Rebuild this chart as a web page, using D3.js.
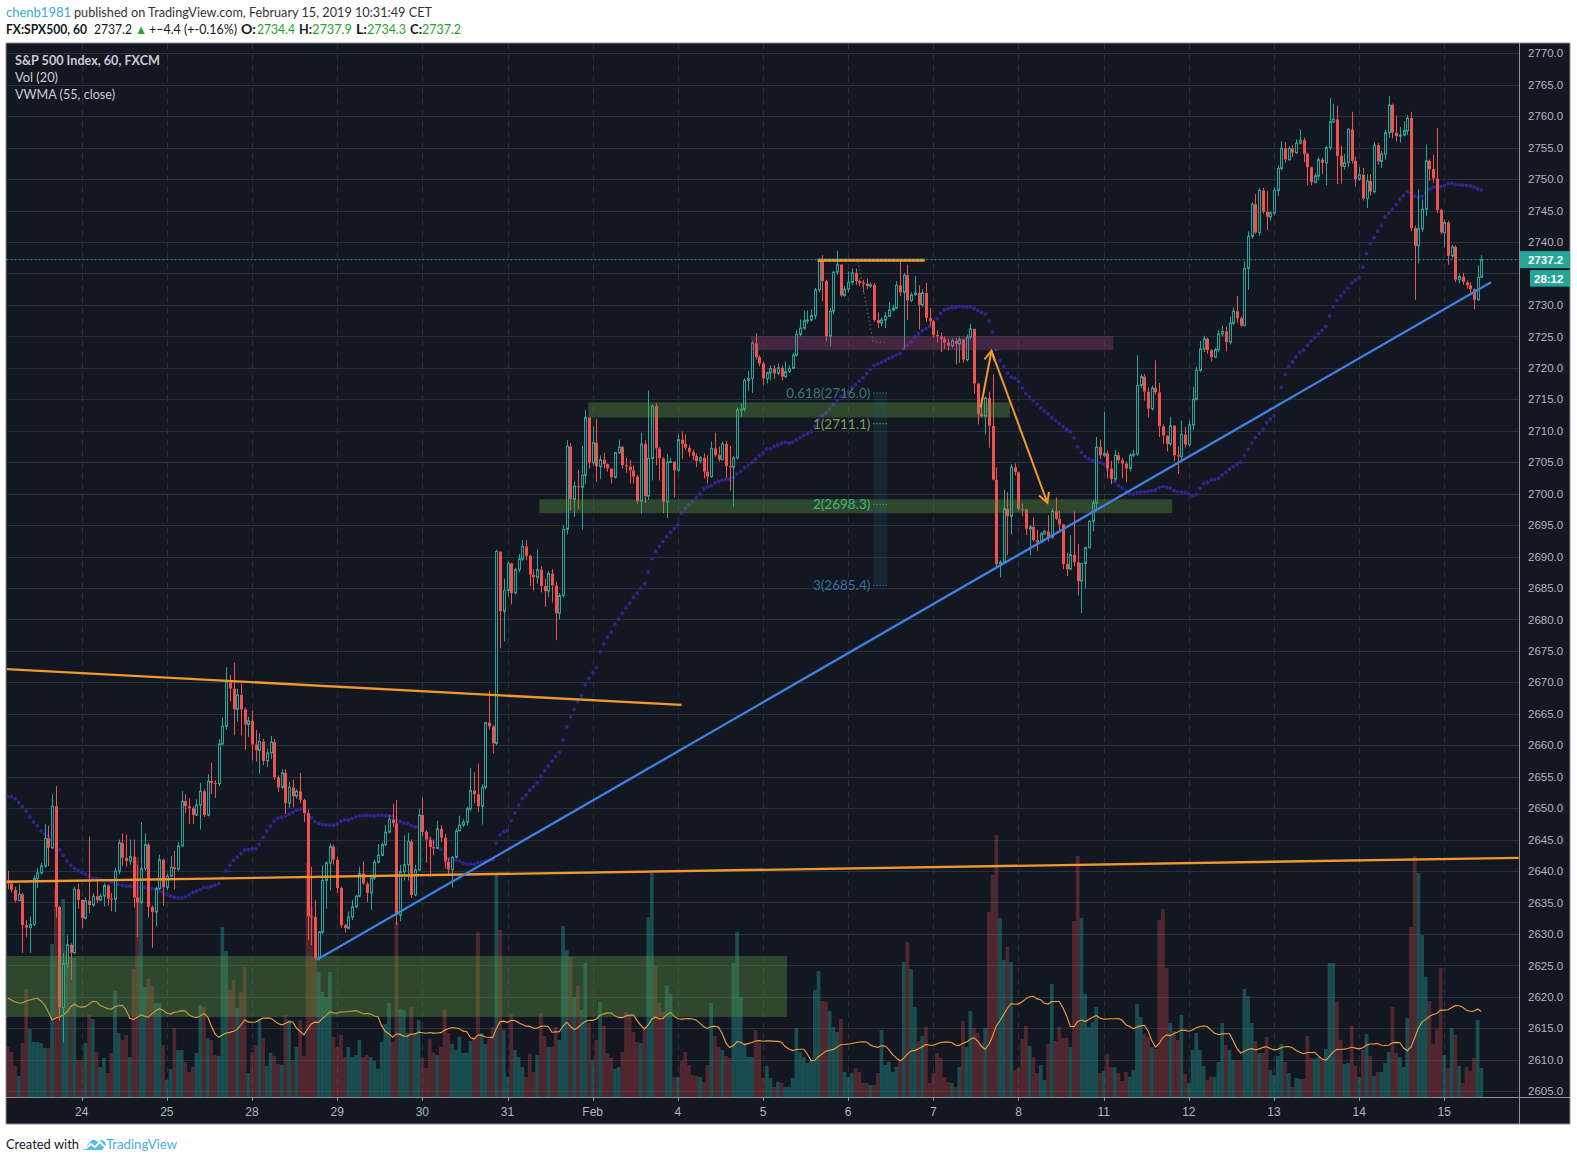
<!DOCTYPE html>
<html><head><meta charset="utf-8">
<script src="https://cdn.jsdelivr.net/npm/d3@7"></script>
<style>
html,body{margin:0;padding:0;background:#ffffff;}
svg{display:block;}
</style></head><body>
<svg id="chart" width="1577" height="1161"></svg>
<script>
// ---------------- DATA ----------------
const dayLabels = ["24","25","28","29","30","31","Feb","4","5","6","7","8","11","12","13","14","15"];
const firstDayBar = 20;          // bar index of the first day label
const barsPerDay = 23;           // hourly bars per trading day
const firstOpen = 2638.5;
const closes = [
2638.0,2637.0,2635.3,2636.3,2631.4,2631.0,2631.5,2638.8,2639.7,2640.8,
2645.2,2643.7,2650.3,2634.3,2618.3,2625.3,2628.3,2627.0,2637.1,2635.4,
2632.5,2635.3,2634.6,2636.0,2635.4,2636.0,2637.7,2635.6,2635.5,2640.0,
2644.5,2642.1,2641.6,2642.3,2635.8,2635.0,2640.4,2644.2,2634.3,2633.5,
2637.2,2641.8,2637.4,2639.2,2640.6,2640.3,2644.0,2651.1,2650.3,2650.0,
2648.9,2650.5,2652.7,2648.9,2654.3,2654.0,2653.9,2660.2,2663.0,2670.0,
2669.0,2665.7,2668.0,2665.7,2663.3,2663.9,2660.1,2659.2,2660.6,2657.5,
2658.8,2660.5,2654.9,2653.3,2655.6,2650.8,2653.3,2651.9,2652.7,2651.3,
2649.2,2632.8,2632.7,2626.1,2630.3,2638.5,2641.3,2643.9,2641.8,2637.3,
2631.4,2630.9,2632.7,2634.3,2636.0,2639.6,2638.0,2636.5,2638.9,2641.4,
2642.5,2644.2,2646.2,2648.2,2647.6,2633.0,2639.9,2641.0,2644.7,2636.2,
2640.2,2648.9,2646.2,2645.0,2643.8,2643.6,2646.7,2645.3,2641.5,2640.2,
2642.2,2646.4,2647.3,2647.8,2649.9,2652.8,2652.2,2650.3,2653.3,2663.6,
2663.0,2660.3,2690.8,2681.3,2684.6,2688.9,2684.2,2687.9,2689.6,2691.6,
2690.1,2687.1,2686.7,2687.9,2685.3,2684.5,2687.3,2685.4,2681.0,2683.8,
2694.3,2707.5,2699.1,2701.2,2701.0,2702.9,2712.1,2704.9,2708.1,2704.3,
2705.4,2704.7,2704.0,2702.6,2706.5,2707.4,2704.5,2704.3,2703.7,2702.7,
2698.8,2707.9,2699.6,2705.6,2713.9,2707.2,2705.6,2698.7,2705.0,2705.1,
2703.7,2708.6,2707.9,2707.3,2706.6,2706.0,2705.2,2705.7,2703.5,2702.7,
2707.2,2706.1,2705.4,2707.9,2704.4,2704.2,2705.7,2713.3,2713.4,2718.0,
2718.3,2723.9,2721.7,2720.7,2718.3,2719.2,2719.9,2719.1,2720.0,2718.6,
2719.4,2719.9,2722.0,2725.3,2726.3,2727.5,2727.6,2728.3,2732.4,2737.0,
2733.8,2725.0,2729.0,2735.2,2736.4,2731.5,2732.5,2733.6,2735.1,2733.8,
2733.5,2733.4,2733.0,2733.2,2727.6,2727.1,2727.6,2728.2,2729.2,2729.5,
2733.1,2732.0,2734.7,2730.7,2731.6,2731.9,2730.0,2731.9,2727.9,2727.4,
2725.2,2725.0,2724.6,2724.0,2723.5,2724.3,2723.8,2724.5,2721.3,2724.9,
2726.2,2717.5,2712.7,2712.3,2715.2,2710.8,2702.2,2688.8,2689.1,2697.6,
2696.4,2704.2,2703.4,2697.6,2697.5,2694.4,2694.7,2692.6,2692.3,2693.6,
2694.0,2693.1,2697.2,2696.0,2695.1,2688.8,2688.0,2690.3,2689.1,2686.1,
2688.9,2691.4,2695.6,2698.5,2707.4,2706.1,2706.4,2704.0,2702.3,2706.1,
2705.3,2704.8,2704.0,2706.1,2706.3,2717.2,2718.6,2716.2,2713.5,2716.8,
2716.1,2710.7,2709.2,2707.9,2710.8,2706.1,2705.9,2709.4,2707.8,2710.9,
2715.0,2719.6,2723.0,2724.6,2722.8,2721.7,2722.9,2725.4,2725.8,2724.1,
2727.1,2729.0,2727.9,2726.7,2735.8,2740.9,2746.0,2741.5,2748.2,2744.8,
2744.0,2744.6,2748.2,2751.7,2754.9,2753.1,2754.9,2754.2,2755.7,2756.2,
2754.0,2751.9,2749.5,2750.5,2753.1,2752.6,2755.0,2759.1,2759.5,2753.7,
2752.0,2752.6,2757.9,2752.9,2750.0,2750.7,2746.9,2749.7,2748.0,2755.4,
2752.8,2754.0,2757.4,2761.8,2757.4,2756.8,2757.0,2757.7,2759.7,2742.2,
2739.4,2742.1,2745.2,2752.9,2751.6,2750.1,2745.1,2741.5,2743.1,2737.8,
2739.2,2734.0,2734.5,2733.6,2733.1,2732.5,2730.8,2734.4,2737.2];
const highs = [
2640.0,2638.5,2637.5,2637.9,2636.5,2632.2,2632.8,2639.3,2640.5,2641.3,
2647.5,2647.2,2652.2,2653.5,2634.5,2627.0,2629.8,2628.5,2637.5,2638.0,
2635.5,2635.8,2645.5,2636.5,2638.5,2636.4,2638.1,2637.9,2636.5,2640.5,
2645.0,2646.0,2645.8,2645.0,2645.0,2641.0,2647.8,2646.0,2644.5,2634.5,
2637.5,2642.6,2642.0,2639.6,2642.4,2643.2,2644.6,2652.7,2652.2,2651.6,
2650.3,2651.4,2654.0,2653.0,2655.4,2657.2,2654.4,2661.0,2664.4,2672.4,
2671.2,2673.1,2669.0,2669.8,2666.0,2664.5,2665.5,2662.4,2661.9,2661.0,
2659.5,2661.5,2661.0,2655.2,2656.2,2656.2,2654.2,2654.5,2653.0,2655.6,
2651.5,2649.8,2640.7,2635.4,2630.5,2640.9,2641.5,2644.4,2644.2,2642.3,
2637.5,2631.6,2633.6,2635.4,2636.2,2640.7,2641.5,2638.3,2639.2,2641.8,
2644.3,2644.5,2647.3,2648.9,2650.7,2651.3,2641.0,2645.7,2646.1,2645.0,
2641.0,2649.9,2651.7,2646.5,2645.4,2645.0,2648.0,2647.3,2645.9,2642.1,
2642.4,2646.8,2648.8,2648.2,2650.2,2656.4,2655.7,2657.1,2653.8,2663.7,
2668.7,2663.2,2691.1,2690.8,2686.5,2689.2,2689.0,2688.2,2690.4,2692.6,
2692.6,2690.3,2688.0,2691.1,2688.5,2686.5,2687.7,2688.0,2686.0,2684.2,
2695.0,2708.5,2708.0,2702.0,2703.8,2707.6,2713.3,2712.1,2710.7,2711.9,
2706.1,2706.5,2704.8,2704.0,2706.6,2708.6,2707.6,2705.7,2705.3,2704.5,
2703.0,2709.7,2708.5,2716.4,2714.2,2714.3,2707.4,2705.8,2706.3,2705.7,
2705.1,2709.4,2709.9,2709.4,2707.7,2707.0,2706.4,2706.0,2706.4,2706.1,
2708.3,2709.7,2707.5,2708.3,2708.4,2707.6,2706.0,2713.7,2714.3,2718.3,
2719.5,2724.3,2725.5,2722.0,2721.0,2719.4,2720.4,2720.4,2720.7,2720.4,
2721.0,2720.4,2722.4,2726.0,2727.7,2729.1,2729.1,2729.3,2732.7,2737.5,
2737.9,2734.0,2729.5,2735.4,2738.6,2736.5,2733.0,2735.3,2735.8,2735.8,
2734.0,2734.0,2734.2,2733.6,2733.5,2728.8,2728.0,2728.9,2730.5,2730.0,
2733.8,2737.2,2735.1,2736.4,2732.0,2734.6,2733.1,2732.5,2733.5,2729.5,
2727.6,2726.0,2725.6,2725.0,2724.6,2724.7,2724.8,2725.0,2724.6,2725.3,
2727.0,2726.2,2717.6,2715.3,2715.4,2716.2,2719.0,2704.2,2689.4,2700.6,
2700.2,2704.7,2704.8,2703.5,2698.5,2697.6,2695.0,2696.2,2694.3,2693.9,
2694.2,2696.6,2697.6,2699.4,2697.3,2695.2,2690.6,2693.4,2697.2,2692.0,
2689.0,2691.6,2695.8,2699.0,2709.0,2708.6,2713.0,2706.9,2705.2,2706.9,
2706.6,2705.7,2705.1,2706.4,2707.0,2722.0,2719.0,2719.0,2716.9,2717.2,
2721.2,2717.6,2711.0,2709.3,2712.2,2710.9,2707.5,2711.6,2710.6,2711.6,
2717.0,2720.2,2724.3,2725.1,2724.8,2723.0,2723.2,2726.0,2726.7,2726.6,
2728.1,2729.6,2731.4,2728.2,2736.9,2741.7,2746.3,2747.6,2748.6,2748.6,
2748.1,2744.9,2748.7,2752.2,2756.0,2755.9,2755.2,2755.4,2756.3,2757.9,
2756.6,2754.2,2752.0,2750.9,2753.5,2753.4,2755.3,2762.9,2762.0,2761.7,
2755.3,2754.0,2758.1,2760.7,2753.6,2751.9,2751.8,2750.8,2750.8,2755.9,
2755.7,2754.5,2757.8,2763.2,2762.0,2760.1,2758.3,2759.2,2760.2,2760.7,
2742.6,2748.4,2746.8,2755.5,2753.1,2753.9,2758.1,2745.3,2743.6,2743.4,
2739.6,2739.5,2735.0,2735.1,2733.9,2733.6,2732.6,2736.3,2737.9];
const lows = [
2637.1,2636.6,2635.0,2635.3,2627.0,2629.5,2627.0,2631.3,2637.3,2639.5,
2640.5,2640.8,2643.5,2632.6,2616.2,2612.7,2624.5,2622.7,2626.8,2634.0,
2630.9,2632.3,2633.3,2634.3,2635.0,2635.2,2634.4,2634.5,2633.6,2633.5,
2639.5,2640.8,2640.7,2641.0,2634.2,2629.5,2634.7,2640.0,2632.6,2627.8,
2631.2,2637.0,2634.5,2637.0,2639.0,2637.1,2640.0,2643.8,2649.2,2647.5,
2647.5,2648.8,2646.6,2648.6,2648.7,2652.2,2651.6,2653.5,2660.0,2662.5,
2667.0,2661.6,2663.7,2661.6,2659.3,2661.3,2657.6,2657.4,2655.5,2656.8,
2656.5,2657.8,2654.5,2652.6,2653.0,2649.1,2650.0,2650.1,2651.5,2650.8,
2647.8,2629.0,2628.2,2625.9,2625.8,2630.0,2634.0,2636.9,2641.0,2636.5,
2631.0,2630.2,2630.7,2632.2,2634.1,2635.8,2637.8,2635.1,2633.8,2638.6,
2641.2,2642.4,2644.0,2646.0,2647.0,2631.4,2632.0,2638.5,2638.5,2635.7,
2636.0,2640.0,2645.5,2641.3,2639.1,2642.5,2643.5,2644.6,2640.4,2639.5,
2637.4,2642.0,2646.3,2647.0,2647.2,2649.5,2650.8,2649.4,2647.4,2653.0,
2662.5,2658.7,2660.0,2675.4,2676.5,2683.7,2682.4,2684.0,2687.5,2689.3,
2689.4,2685.3,2684.6,2685.7,2684.3,2682.0,2683.5,2682.7,2676.7,2680.0,
2683.5,2693.5,2697.3,2696.3,2697.5,2694.3,2701.5,2704.0,2704.5,2701.9,
2702.3,2704.0,2703.5,2701.6,2702.4,2706.3,2704.0,2703.3,2701.6,2701.6,
2698.3,2696.8,2698.5,2699.0,2702.1,2704.5,2702.1,2696.9,2696.1,2704.9,
2699.4,2703.5,2705.5,2706.9,2705.9,2705.3,2704.2,2704.8,2702.4,2701.6,
2702.5,2705.9,2705.1,2705.3,2702.5,2700.4,2697.9,2705.4,2712.2,2713.0,
2716.3,2716.0,2721.3,2720.3,2717.3,2717.5,2718.0,2718.2,2718.8,2718.0,
2718.4,2719.2,2719.8,2721.8,2725.0,2726.0,2727.0,2727.4,2727.7,2732.0,
2730.6,2724.2,2723.4,2728.5,2734.8,2731.3,2731.3,2732.0,2733.2,2733.2,
2733.0,2732.0,2732.5,2732.7,2727.3,2726.3,2726.6,2726.3,2728.1,2729.0,
2729.3,2731.4,2723.1,2727.6,2730.4,2731.5,2726.1,2729.7,2727.3,2726.7,
2724.8,2724.0,2722.5,2723.0,2722.8,2723.2,2720.5,2720.8,2720.8,2721.0,
2724.5,2715.9,2711.0,2712.1,2709.4,2707.3,2702.1,2688.1,2686.7,2688.9,
2690.2,2693.5,2702.9,2697.3,2696.4,2693.4,2690.2,2692.4,2690.9,2692.2,
2693.5,2692.4,2692.8,2695.8,2693.8,2688.0,2686.9,2687.9,2688.4,2683.8,
2681.0,2684.9,2692.8,2694.0,2697.2,2705.5,2705.8,2702.4,2701.5,2702.0,
2704.8,2702.5,2701.8,2703.5,2705.8,2706.0,2716.8,2714.8,2712.1,2713.2,
2715.7,2709.0,2707.9,2706.7,2707.6,2705.1,2703.1,2705.3,2707.3,2707.5,
2710.1,2714.8,2719.3,2722.5,2722.2,2721.0,2721.6,2722.5,2725.0,2722.6,
2723.7,2726.8,2727.2,2726.5,2726.6,2732.4,2740.5,2741.3,2741.0,2744.5,
2741.9,2743.4,2744.2,2747.3,2751.4,2752.6,2752.9,2753.5,2754.0,2755.5,
2752.7,2749.0,2749.0,2749.3,2749.8,2750.8,2749.0,2754.6,2758.9,2749.2,
2749.3,2751.5,2751.9,2752.5,2748.8,2749.7,2746.6,2745.4,2747.4,2747.7,
2752.3,2751.8,2753.1,2756.6,2756.5,2756.0,2755.8,2756.8,2757.0,2741.7,
2730.8,2736.6,2741.6,2744.1,2749.7,2749.4,2744.6,2741.2,2739.2,2736.4,
2737.5,2733.6,2733.4,2733.2,2732.6,2731.7,2729.3,2730.7,2734.3];
const volumes = [
50,45,31,21,54,108,68,55,55,54,
49,49,153,208,150,198,147,140,139,37,
37,54,82,78,45,30,39,24,44,106,
64,57,62,40,128,240,200,110,118,111,
94,94,52,17,28,69,47,47,35,25,
30,44,92,90,59,57,42,41,170,146,
107,117,89,105,130,24,45,52,78,59,
31,44,41,33,32,82,77,37,50,77,
41,234,190,140,125,105,100,125,60,50,
62,40,50,40,42,57,40,42,40,36,
28,55,73,94,55,175,88,87,64,90,
64,77,39,29,58,44,42,50,87,64,
53,47,60,44,44,56,60,165,64,53,
58,70,222,167,67,20,83,47,40,30,
20,43,25,42,84,61,50,50,70,57,
171,147,140,100,111,87,134,74,37,57,
95,71,44,39,28,30,45,85,83,65,
55,54,69,180,224,131,94,85,112,103,
20,20,36,45,32,22,21,20,15,32,
94,61,50,47,41,39,134,165,100,54,
40,40,67,54,19,31,19,10,15,14,
10,10,19,69,45,40,34,37,107,126,
96,95,86,70,65,78,25,20,24,29,
25,14,14,12,12,24,67,32,35,25,
30,37,135,155,128,90,56,61,70,14,
24,44,39,20,15,14,10,30,76,50,
86,69,64,54,69,185,222,262,179,137,
150,135,27,29,58,71,51,40,24,32,
17,53,113,56,70,59,59,50,176,241,
179,103,70,75,90,24,26,43,30,30,
24,16,25,20,27,93,80,63,60,50,
48,177,188,129,74,66,57,82,23,14,
47,64,47,31,17,20,20,35,74,52,
47,37,37,37,108,101,74,56,44,44,
60,27,22,41,53,35,24,10,19,18,
18,61,39,38,40,38,48,134,134,95,
57,33,34,71,31,20,47,63,41,21,
25,25,34,45,90,44,40,30,79,170,
241,224,162,120,96,53,68,129,42,29,
69,62,31,14,30,26,39,77,29];
// VWMA(55) values for the first bars (before a full window exists)
const vwmaEarly = [
2651.8,2651.8,2651.5,2650.9,2650.2,2649.5,2648.6,2647.8,2647.2,2646.4,
2645.9,2645.6,2645.0,2644.2,2643.4,2642.5,2641.6,2640.9,2640.4,2640.1,
2639.8,2639.5,2639.2,2638.9,2638.8,2638.7,2638.5,2638.5,2638.3,2638.0,
2637.9,2637.7,2637.6,2637.6,2637.5,2637.5,2637.5,2637.4,2637.2,2637.2,
2637.1,2636.8,2636.6,2636.3,2636.0,2635.8,2635.7,2635.7,2635.9,2636.2,
2636.6,2636.8,2637.1,2637.4];
// Vol MA(20) values for the first bars
const volMaEarly = [99,97,95,94,94,96,97,98,99,96,92,85,77,79,80,82,85,90,93];
const vwmaLength = 55, volMaLength = 20;
const priceTicks = d3.range(2605, 2771, 5);
// drawings: [barIndex, price] anchors
const orangeLines = [
  {a:[-0.3,2672.1], b:[182,2666.4]},
  {a:[-0.3,2638.3], b:[408.1,2642.1]}
];
const orangeTopLine = {a:[218.7,2737.1], b:[247.7,2737.1]};
const blueLine = {a:[83.5,2625.9], b:[400.6,2733.6]};
const zones = [
  {kind:"pink",  i0:200.7, i1:298.6, p0:2722.8, p1:2725.0},
  {kind:"green", i0:156.8, i1:270.7, p0:2712.1, p1:2714.5},
  {kind:"green", i0:143.6, i1:314.5, p0:2696.9, p1:2699.1},
  {kind:"green", i0:-0.5,  i1:210.5, p0:2616.8, p1:2626.5}
];
const fibLevels = [
  {r:"0.618", p:2716.0},
  {r:"1", p:2711.1},
  {r:"2", p:2698.3},
  {r:"3", p:2685.4}
];
const fibSpan = [233.8, 237.6];
const dottedPath = [[229.7,2736.9],[233.7,2724.2],[237.3,2724.0]];
const arrowPts = [[262.8,2713.7],[265.7,2722.7],[280.8,2698.55]];
const countdownText = "28:12";

// ---------------- STYLES ----------------
const C = {
  bg:"#131722", grid:"#2c303b", vgrid:"#2a2e39", up:"#26a69a", down:"#ef5350",
  volUp:"rgba(38,166,154,0.38)", volDown:"rgba(239,83,80,0.28)",
  vwma:"#33238a", volMa:"#f0a040", orange:"#f0982e", blue:"#3f80e0",
  axisText:"#b2b5be", border:"#8c8f98",
  zone:{pink:"rgba(170,70,125,0.32)", green:"rgba(100,160,70,0.35)"},
  fib:{"0.618":"#3a7a72","1":"#7f9f52","2":"#3fb57c","3":"#3570a0"}
};
const plot = {left:6.5, right:1519, top:43.5, bottom:1097};

// ---------------- SCALES ----------------
const x = d3.scaleLinear()
  .domain([firstDayBar, firstDayBar + barsPerDay*(dayLabels.length-1)])
  .range([81.7, 1444.3]);
const y = d3.scaleLinear().domain([2605, 2770]).range([1091.2, 53.3]);
const yVol = d3.scaleLinear().domain([0, 262]).range([plot.bottom, 835]);
const step = x(1) - x(0);

const bars = closes.map((c,i)=>{
  const o = i ? closes[i-1] : firstOpen;
  return {i, o, c, h:Math.max(highs[i],o,c), l:Math.min(lows[i],o,c), v:volumes[i]};
});
const vwma = bars.map((b,i)=>{
  if (i < vwmaLength-1) return vwmaEarly[i];
  let pv=0, vv=0;
  for (let k=i-vwmaLength+1;k<=i;k++){ pv += closes[k]*volumes[k]; vv += volumes[k]; }
  return pv/vv;
});
const volMa = bars.map((b,i)=>{
  if (i < volMaLength-1) return volMaEarly[i];
  return d3.mean(volumes.slice(i-volMaLength+1, i+1));
});

// ---------------- DRAW ----------------
const svg = d3.select("#chart");
const font = "'Liberation Sans', Arial, sans-serif";
const fontH = "Lato, 'Open Sans', sans-serif";

svg.append("rect").attr("x",6).attr("y",43).attr("width",1564).attr("height",1081)
  .attr("fill",C.bg).attr("stroke",C.border).attr("stroke-width",1);

svg.append("defs").append("clipPath").attr("id","plotClip").append("rect")
  .attr("x",plot.left).attr("y",plot.top).attr("width",plot.right-plot.left).attr("height",plot.bottom-plot.top);

const g = svg.append("g").attr("clip-path","url(#plotClip)");

// grid
g.append("g").selectAll("line").data(priceTicks).join("line")
  .attr("x1",plot.left).attr("x2",plot.right)
  .attr("y1",d=>Math.round(y(d))+0.5).attr("y2",d=>Math.round(y(d))+0.5)
  .attr("stroke",C.grid).attr("stroke-width",1);
const dayIdx = dayLabels.map((d,k)=>firstDayBar + k*barsPerDay);
g.append("g").selectAll("line").data(dayIdx).join("line")
  .attr("x1",d=>Math.round(x(d))+0.5).attr("x2",d=>Math.round(x(d))+0.5)
  .attr("y1",plot.top).attr("y2",plot.bottom)
  .attr("stroke",C.vgrid).attr("stroke-width",1).attr("stroke-dasharray","6,5");

// volume
g.append("g").selectAll("rect").data(bars).join("rect")
  .attr("x",d=>x(d.i)-step/2).attr("width",step)
  .attr("y",d=>yVol(d.v)).attr("height",d=>plot.bottom-yVol(d.v))
  .attr("fill",d=>d.c>=d.o?C.volUp:C.volDown);

// vol MA
g.append("path").datum(bars)
  .attr("d", d3.line().x(d=>x(d.i)).y(d=>yVol(volMa[d.i])))
  .attr("fill","none").attr("stroke",C.volMa).attr("stroke-width",1.1);

// VWMA dots
g.append("g").selectAll("circle").data(bars).join("circle")
  .attr("cx",d=>x(d.i)).attr("cy",d=>y(vwma[d.i])).attr("r",1.9)
  .attr("fill",C.vwma);

// candles
const cg = g.append("g");
bars.forEach(b=>{
  const px = Math.round(x(b.i));
  const up = b.c >= b.o;
  const col = up ? C.up : C.down;
  const top = y(Math.max(b.o,b.c)), bot = y(Math.min(b.o,b.c));
  cg.append("line").attr("x1",px+0.5).attr("x2",px+0.5).attr("y1",y(b.h)).attr("y2",top)
    .attr("stroke",col).attr("stroke-width",1);
  cg.append("line").attr("x1",px+0.5).attr("x2",px+0.5).attr("y1",bot).attr("y2",y(b.l))
    .attr("stroke",col).attr("stroke-width",1);
  if (up) {
    cg.append("rect").attr("x",px-0.5).attr("width",2)
      .attr("y",top).attr("height",Math.max(bot-top,0.8))
      .attr("fill",C.bg).attr("stroke",col).attr("stroke-width",1);
  } else {
    cg.append("rect").attr("x",px-1).attr("width",3)
      .attr("y",top).attr("height",Math.max(bot-top,1))
      .attr("fill",col);
  }
});

// zones
g.append("g").selectAll("rect").data(zones).join("rect")
  .attr("x",d=>x(d.i0)).attr("width",d=>x(d.i1)-x(d.i0))
  .attr("y",d=>y(d.p1)).attr("height",d=>y(d.p0)-y(d.p1))
  .attr("fill",d=>C.zone[d.kind]);

// trend lines
const seg = (L)=>[[x(L.a[0]),y(L.a[1])],[x(L.b[0]),y(L.b[1])]];
orangeLines.forEach(L=>{
  g.append("path").attr("d",d3.line()(seg(L))).attr("stroke",C.orange).attr("stroke-width",2.3).attr("fill","none");
});
g.append("path").attr("d",d3.line()(seg(orangeTopLine))).attr("stroke",C.orange).attr("stroke-width",3).attr("fill","none");
g.append("path").attr("d",d3.line()(seg(blueLine))).attr("stroke",C.blue).attr("stroke-width",2.3).attr("fill","none");

// dotted helper path
g.append("path").attr("d",d3.line()(dottedPath.map(p=>[x(p[0]),y(p[1])])))
  .attr("stroke","#5a5d66").attr("stroke-width",1.2).attr("fill","none").attr("stroke-dasharray","1.5,2.5");

// fib extension
g.append("rect").attr("x",x(fibSpan[0])).attr("width",x(fibSpan[1])-x(fibSpan[0]))
  .attr("y",y(d3.max(fibLevels,d=>d.p))).attr("height",y(d3.min(fibLevels,d=>d.p))-y(d3.max(fibLevels,d=>d.p)))
  .attr("fill","rgba(40,90,100,0.22)");
fibLevels.forEach(f=>{
  const yy = y(f.p);
  g.append("line").attr("x1",x(fibSpan[0])).attr("x2",x(fibSpan[1])).attr("y1",yy).attr("y2",yy)
    .attr("stroke",C.fib[f.r]).attr("stroke-width",1).attr("stroke-dasharray","1.5,1.5");
  g.append("text").attr("x",x(fibSpan[0])-3).attr("y",yy).attr("dy","0.35em")
    .attr("text-anchor","end").attr("font-family",fontH).attr("font-size",13.5)
    .attr("fill",C.fib[f.r]).text(`${f.r}(${f.p.toFixed(1)})`);
});

// arrows
const ap = arrowPts.map(p=>[x(p[0]),y(p[1])]);
const head = (from,to)=>{
  const dx=to[0]-from[0], dy=to[1]-from[1], L=Math.hypot(dx,dy);
  const ux=dx/L, uy=dy/L, len=11, ang=0.5;
  const w1=[to[0]-len*(ux*Math.cos(ang)-uy*Math.sin(ang)), to[1]-len*(uy*Math.cos(ang)+ux*Math.sin(ang))];
  const w2=[to[0]-len*(ux*Math.cos(-ang)-uy*Math.sin(-ang)), to[1]-len*(uy*Math.cos(-ang)+ux*Math.sin(-ang))];
  return [w1,to,w2];
};
[[ap[0],ap[1]],[ap[1],ap[2]]].forEach(([a,b])=>{
  g.append("path").attr("d",d3.line()([a,b])).attr("stroke",C.orange).attr("stroke-width",2).attr("fill","none");
  g.append("path").attr("d",d3.line()(head(a,b))).attr("stroke",C.orange).attr("stroke-width",2).attr("fill","none");
});

// last price line
const last = bars[bars.length-1];
g.append("line").attr("x1",plot.left).attr("x2",plot.right)
  .attr("y1",y(last.c)).attr("y2",y(last.c))
  .attr("stroke",C.up).attr("stroke-width",1).attr("stroke-dasharray","2,2");

// legend
const leg = svg.append("g").attr("font-family",fontH).attr("fill","#c9ccd4");
leg.append("text").attr("x",15).attr("y",65).attr("font-size",13).attr("font-weight","bold")
  .attr("textLength",145).attr("lengthAdjust","spacingAndGlyphs").text("S&P 500 Index, 60, FXCM");
leg.append("text").attr("x",15).attr("y",82).attr("font-size",13)
  .attr("textLength",43).attr("lengthAdjust","spacingAndGlyphs").text("Vol (20)");
leg.append("text").attr("x",15).attr("y",99).attr("font-size",13)
  .attr("textLength",100).attr("lengthAdjust","spacingAndGlyphs").text("VWMA (55, close)");

// axes frames
svg.append("line").attr("x1",plot.right+0.5).attr("x2",plot.right+0.5).attr("y1",43).attr("y2",1124)
  .attr("stroke",C.border).attr("stroke-width",1);
svg.append("line").attr("x1",6).attr("x2",1570).attr("y1",plot.bottom+0.5).attr("y2",plot.bottom+0.5)
  .attr("stroke",C.border).attr("stroke-width",1);

// price axis labels (those hidden under the last-price / countdown tags are skipped)
const tagTop = y(last.c)-8.5, tagBottom = y(last.c)+27;
svg.append("g").selectAll("text")
  .data(priceTicks.filter(d=>{ const yy=y(d); return yy+7 < tagTop || yy-7 > tagBottom; }))
  .join("text")
  .attr("x",1528).attr("y",d=>y(d)).attr("dy","0.36em")
  .attr("font-family",font).attr("font-size",11.5).attr("fill",C.axisText)
  .text(d=>d.toFixed(1));

// time axis
const xa = svg.append("g");
xa.selectAll("line").data(dayIdx).join("line")
  .attr("x1",d=>Math.round(x(d))+0.5).attr("x2",d=>Math.round(x(d))+0.5)
  .attr("y1",plot.bottom+1).attr("y2",plot.bottom+4).attr("stroke",C.border);
xa.selectAll("text").data(dayLabels).join("text")
  .attr("x",(d,k)=>x(dayIdx[k])).attr("y",1116)
  .attr("text-anchor","middle").attr("font-family",font).attr("font-size",12).attr("fill",C.axisText)
  .text(d=>d);

// last price tag + countdown
svg.append("rect").attr("x",plot.right+1).attr("y",y(last.c)-8.5).attr("width",50).attr("height",17).attr("fill",C.up);
svg.append("text").attr("x",1528).attr("y",y(last.c)).attr("dy","0.36em")
  .attr("font-family",font).attr("font-size",11.5).attr("font-weight","bold").attr("fill","#ffffff")
  .text(last.c.toFixed(1));
svg.append("rect").attr("x",1530).attr("y",y(last.c)+10.5).attr("width",40).attr("height",16.5).attr("fill",C.up);
svg.append("text").attr("x",1534).attr("y",y(last.c)+18.8).attr("dy","0.36em")
  .attr("font-family",font).attr("font-size",11.5).attr("font-weight","bold").attr("fill","#ffffff")
  .text(countdownText);

// header
const hd = svg.append("g").attr("font-family",fontH).attr("font-size",13);
hd.append("text").attr("x",6).attr("y",17).attr("fill","#3aa8dc")
  .attr("textLength",65).attr("lengthAdjust","spacingAndGlyphs").text("chenb1981");
hd.append("text").attr("x",74).attr("y",17).attr("fill","#333333")
  .attr("textLength",358).attr("lengthAdjust","spacingAndGlyphs")
  .text("published on TradingView.com, February 15, 2019 10:31:49 CET");
const green = "#22a52b";
const line2 = [
  {t:"FX:SPX500, 60", x:6, w:81, b:true, f:"#131722"},
  {t:last.c.toFixed(1), x:94, w:38, b:false, f:"#131722"},
  {t:"▲", x:135, w:12, b:false, f:green},
  {t:"+−4.4 (+-0.16%)", x:149, w:88, b:false, f:"#131722"},
  {t:"O:", x:241, w:15, b:true, f:"#131722"},
  {t:last.o.toFixed(1), x:257, w:38, b:false, f:green},
  {t:"H:", x:299, w:13, b:true, f:"#131722"},
  {t:highs[highs.length-1].toFixed(1), x:312, w:40, b:false, f:green},
  {t:"L:", x:356, w:11, b:true, f:"#131722"},
  {t:lows[lows.length-1].toFixed(1), x:367, w:39, b:false, f:green},
  {t:"C:", x:410, w:12, b:true, f:"#131722"},
  {t:last.c.toFixed(1), x:422, w:39, b:false, f:green}
];
line2.forEach(s=>{
  hd.append("text").attr("x",s.x).attr("y",34).attr("fill",s.f)
    .attr("font-weight",s.b?"bold":"normal")
    .attr("textLength",s.w).attr("lengthAdjust","spacingAndGlyphs").text(s.t);
});

// footer
const ft = svg.append("g").attr("font-family",fontH).attr("font-size",14);
ft.append("text").attr("x",6).attr("y",1149).attr("fill","#131722")
  .attr("textLength",73).attr("lengthAdjust","spacingAndGlyphs").text("Created with");
const logo = ft.append("g").attr("transform","translate(82,1136)");
logo.append("path").attr("d","M1,14 L8,6 Q10,3 13,4 L16,6 Q19,2 23,6 L24,9 L20,14 Z").attr("fill","#55bce9");
logo.append("path").attr("d","M3,13 L9,8 L13,11 L18,6 L23,11").attr("stroke","#ffffff").attr("stroke-width",1.8).attr("fill","none");
ft.append("text").attr("x",106).attr("y",1149).attr("fill","#3fb0e4")
  .attr("textLength",71).attr("lengthAdjust","spacingAndGlyphs").text("TradingView");
</script>
</body></html>
